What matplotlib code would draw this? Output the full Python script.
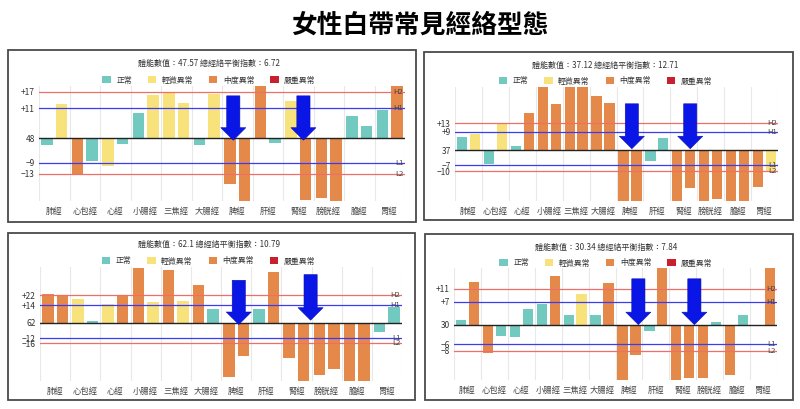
import numpy as np
import matplotlib
matplotlib.use("Agg")
import matplotlib.pyplot as plt
from matplotlib.patches import Rectangle, Patch

plt.rcParams['font.family'] = ['Noto Sans CJK TC', 'DejaVu Sans']

W, H = 800, 409

meridians = ["肺經", "心包經", "心經", "小腸經", "三焦經", "大腸經",
             "脾經", "肝經", "腎經", "膀胱經", "膽經", "胃經"]
status_names = ["正常", "輕微異常", "中度異常", "嚴重異常"]
status_colors = ["#72c9bf", "#f8e27c", "#e5894a", "#c8202e"]

# panel 1 (top left)
p1_title = "體能數值：47.57 總經絡平衡指數：6.72"
p1_base = "48"
p1_limits = [17, 11, -9, -13]
p1_left = [-2.4, -13.3, -10.1, 9.4, 16.9, -2.4, -16.7, 19.1, 13.7, -21.7, 8.3, 10.4]
p1_right = [12.6, -8.3, -2.1, 15.9, 12.8, 16.1, -22.9, -1.6, -22.6, -22.9, 4.5, 19.1]
p1_left_st = [0, 2, 1, 0, 1, 0, 2, 2, 1, 2, 0, 0]
p1_right_st = [1, 0, 0, 1, 1, 1, 2, 0, 2, 2, 0, 2]

# panel 2 (top right)
p2_title = "體能數值：37.12 總經絡平衡指數：12.71"
p2_base = "37"
p2_limits = [13, 9, -7, -10]
p2_left = [6.3, -6.3, 2.2, 30.2, 30.2, 25.7, -24.1, -5.1, -24.1, -24.1, -24.1, -17.5]
p2_right = [7.6, 12.7, 17.8, 21.9, 30.2, 22.5, -24.1, 5.9, -17.9, -23.0, -24.1, -10.3]
p2_left_st = [0, 0, 0, 2, 2, 2, 2, 0, 2, 2, 2, 2]
p2_right_st = [1, 1, 2, 2, 2, 2, 2, 0, 2, 2, 2, 1]

# panel 3 (bottom left)
p3_title = "體能數值：62.1 總經絡平衡指數：10.79"
p3_base = "62"
p3_limits = [22, 14, -12, -16]
p3_left = [22.9, 18.7, 14.7, 43.7, 41.8, 29.7, -42.9, 10.8, -27.6, -41.3, -45.8, -7.6]
p3_right = [21.8, 1.8, 21.8, 16.8, 17.4, 10.8, -26.6, 40.0, -45.8, -36.6, -45.8, 12.6]
p3_left_st = [2, 1, 1, 2, 2, 2, 2, 0, 2, 2, 2, 0]
p3_right_st = [2, 0, 2, 1, 1, 0, 2, 2, 2, 2, 2, 0]

# panel 4 (bottom right)
p4_title = "體能數值：30.34 總經絡平衡指數：7.84"
p4_base = "30"
p4_limits = [11, 7, -6, -8]
p4_left = [1.3, -8.8, -3.9, 6.4, 3.1, 3.1, -16.9, -1.8, -16.9, -16.2, -15.3, 0.0]
p4_right = [13.1, -3.4, 4.7, 14.8, 9.5, 12.6, -9.3, 17.3, -16.2, 0.7, 2.9, 17.3]
p4_left_st = [0, 2, 0, 0, 0, 0, 2, 0, 2, 2, 2, 0]
p4_right_st = [2, 0, 0, 2, 1, 2, 2, 2, 2, 0, 0, 2]

panels = [
    dict(title=p1_title, base=p1_base, lim=p1_limits, left=p1_left, right=p1_right,
         lst=p1_left_st, rst=p1_right_st, ylim=(-22.9, 19.1),
         box=(8, 50, 416, 222), plot=(39, 86, 405, 201), sub_y=63, leg_y=80,
         arrows=[(5.87, 15.5, -0.7), (8.17, 15.5, -0.7)]),
    dict(title=p2_title, base=p2_base, lim=p2_limits, left=p2_left, right=p2_right,
         lst=p2_left_st, rst=p2_right_st, ylim=(-24.1, 30.2),
         box=(424, 52, 793, 220), plot=(455, 87, 778, 201), sub_y=65, leg_y=81,
         arrows=[(6.07, 22.2, 0.8), (8.24, 22.2, 0.8)]),
    dict(title=p3_title, base=p3_base, lim=p3_limits, left=p3_left, right=p3_right,
         lst=p3_left_st, rst=p3_right_st, ylim=(-46, 44.2),
         box=(8, 233, 415, 400), plot=(40, 267, 402, 381), sub_y=244, leg_y=261,
         arrows=[(6.09, 33.7, -1.3), (8.47, 38.2, 2.1)]),
    dict(title=p4_title, base=p4_base, lim=p4_limits, left=p4_left, right=p4_right,
         lst=p4_left_st, rst=p4_right_st, ylim=(-16.9, 17.3),
         box=(425, 234, 793, 400), plot=(454, 268, 777, 380), sub_y=247, leg_y=263,
         arrows=[(6.35, 14.0, 0.0), (8.43, 14.0, 0.0)]),
]

fig = plt.figure(figsize=(W / 100, H / 100), dpi=100)
fig.text(420 / W, 1 - 25 / H, "女性白帶常見經絡型態", ha='center', va='center',
         fontsize=18.5, fontweight='bold', color='black')

x = np.arange(len(meridians))
for p in panels:
    bx0, by0, bx1, by1 = p['box']
    fig.patches.append(Rectangle((bx0 / W, 1 - by1 / H), (bx1 - bx0) / W, (by1 - by0) / H,
                                 transform=fig.transFigure, fill=False,
                                 ec='#4a4a4a', lw=1.3))
    px0, py0, px1, py1 = p['plot']
    ax = fig.add_axes([px0 / W, 1 - py1 / H, (px1 - px0) / W, (py1 - py0) / H])
    ax.bar(x - 0.24, p['left'], width=0.38, color=[status_colors[s] for s in p['lst']], zorder=2)
    ax.bar(x + 0.24, p['right'], width=0.38, color=[status_colors[s] for s in p['rst']], zorder=2)
    ax.set_xlim(-0.5, 11.5)
    ax.set_ylim(*p['ylim'])
    for s in ax.spines.values():
        s.set_visible(False)

    h2, h1, l1, l2 = p['lim']
    line_cols = ['#ee6f68', '#3b3bf5', '#3b3bf5', '#ee6f68']
    for val, lab, c in zip([h2, h1, l1, l2], ['H2', 'H1', 'L1', 'L2'], line_cols):
        ax.axhline(val, color=c, lw=0.9, zorder=3)
        ax.text(11.45, val, lab, ha='right', va='center', fontsize=5.5,
                color='#444444', zorder=4)
    ax.axhline(0, color='#222222', lw=1.0, zorder=3)

    ax.set_yticks([h2, h1, 0, l1, l2])
    ax.set_yticklabels([f"+{h2}", f"+{h1}", p['base'], f"−{-l1}", f"−{-l2}"],
                       fontsize=6, color='#333333')
    ax.set_xticks(x)
    ax.set_xticklabels(meridians, fontsize=6, color='#444444')
    ax.set_xticks(np.arange(-0.5, 12), minor=True)
    ax.tick_params(axis='both', which='both', length=0)
    ax.tick_params(axis='x', pad=4.2)
    ax.tick_params(axis='y', pad=3)
    ax.grid(which='minor', axis='x', color='#e8e8e8', lw=0.8, zorder=0)
    ax.set_axisbelow(True)

    for ax_x, top, tip in p['arrows']:
        ax.annotate('', xy=(ax_x, tip), xytext=(ax_x, top),
                    arrowprops=dict(arrowstyle='simple,head_length=0.9,head_width=1.8,tail_width=0.95',
                                    mutation_scale=10, fc='#0a16e6', ec='#0a10b0', lw=0.4,
                                    shrinkA=0, shrinkB=0),
                    zorder=6, annotation_clip=False)

    cx = (bx0 + bx1) / 2 - 3
    fig.text(cx / W, 1 - p['sub_y'] / H, p['title'], ha='center', va='center',
             fontsize=5.8, color='#333333')
    handles = [Patch(facecolor=c, edgecolor='none') for c in status_colors]
    ax.legend(handles, status_names, loc='center', bbox_to_anchor=(cx / W, 1 - p['leg_y'] / H),
              bbox_transform=fig.transFigure, ncol=4, frameon=False, fontsize=5.7,
              handlelength=1.05, handleheight=1.05, handletextpad=0.7, columnspacing=2.0,
              borderpad=0, labelcolor='#333333')

fig.savefig("out.png", dpi=100, facecolor='white')
